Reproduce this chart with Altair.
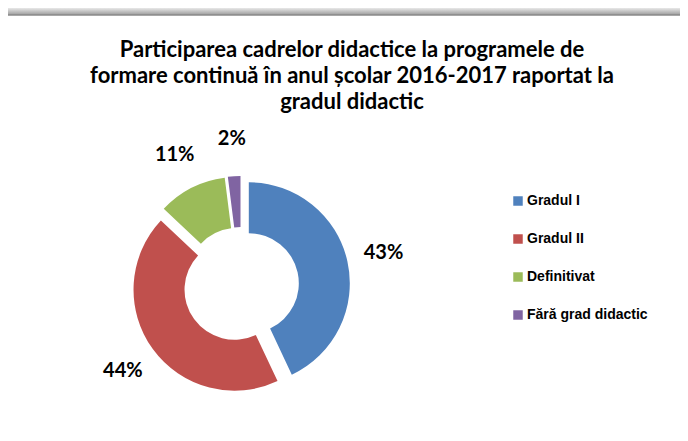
import altair as alt
import pandas as pd

categories = ["Gradul I", "Gradul II", "Definitivat", "Fără grad didactic"]
values = [43, 44, 11, 2]
labels = ["43%", "44%", "11%", "2%"]
colors = ["#4F81BD", "#C0504D", "#9BBB59", "#8064A2"]
title_lines = [
    "Participarea cadrelor didactice la programele de",
    "formare continuă în anul școlar 2016-2017 raportat la",
    "gradul didactic",
]

W, H = 672, 418
CX, CY = 233, 270
R_OUT, R_IN = 101, 50
EXPLODE = 8
LABEL_R = 146

df = pd.DataFrame({"cat": categories, "val": values, "label": labels,
                   "ord": list(range(len(categories)))})

base = (
    alt.Chart(df)
    .transform_joinaggregate(total="sum(val)")
    .transform_window(cum="sum(val)", sort=[alt.SortField("ord")], frame=[None, 0])
    .transform_calculate(
        t0="2*PI*(datum.cum - datum.val)/datum.total",
        t1="2*PI*datum.cum/datum.total",
        mid="2*PI*(datum.cum - datum.val/2)/datum.total",
    )
    .transform_calculate(
        ex=f"{CX} + {EXPLODE}*sin(datum.mid)",
        ey=f"{CY} - {EXPLODE}*cos(datum.mid)",
        lx=f"{CX} + {LABEL_R}*sin(datum.mid)",
        ly=f"{CY} - {LABEL_R}*cos(datum.mid)",
    )
)

arcs = base.mark_arc(outerRadius=R_OUT, innerRadius=R_IN).encode(
    theta=alt.Theta("t0:Q", scale=None),
    theta2=alt.Theta2("t1:Q"),
    x=alt.X("ex:Q", scale=None, axis=None),
    y=alt.Y("ey:Q", scale=None, axis=None),
    color=alt.Color(
        "cat:N",
        scale=alt.Scale(domain=categories, range=colors),
        legend=alt.Legend(
            title=None, orient="none", legendX=503, legendY=179,
            symbolType="square", symbolSize=90, symbolStrokeWidth=0,
            labelFont="Liberation Sans", labelFontWeight="bold",
            labelFontSize=14, labelColor="black",
            rowPadding=24, labelOffset=2, labelLimit=300,
        ),
    ),
)

text = base.mark_text(font="Lato", fontSize=20, fontWeight="bold", color="black").encode(
    x=alt.X("lx:Q", scale=None, axis=None),
    y=alt.Y("ly:Q", scale=None, axis=None),
    text="label:N",
)

deco = pd.DataFrame({"a": [0]})
title_df = pd.DataFrame({"t": ["\n".join(title_lines)]})

title = alt.Chart(title_df).mark_text(
    font="Lato", fontSize=22, fontWeight="bold", color="black",
    align="center", baseline="middle", lineBreak="\n", lineHeight=26,
).encode(x=alt.value(344), y=alt.value(35), text="t:N")

shadow = alt.Chart(deco).mark_rect(
    color=alt.LinearGradient(
        gradient="linear",
        stops=[alt.GradientStop(color="#ffffff", offset=0),
               alt.GradientStop(color="#9a9a9a", offset=1)],
        x1=0, x2=0, y1=0, y2=1,
    )
).encode(x=alt.value(-2), x2=alt.value(W + 10), y=alt.value(-9), y2=alt.value(0))

frame_top = alt.Chart(deco).mark_rule(color="#8a8a8a", strokeWidth=1.5).encode(
    x=alt.value(-2), x2=alt.value(W + 10), y=alt.value(0))
frame_left = alt.Chart(deco).mark_rule(color="#8a8a8a", strokeWidth=2).encode(
    x=alt.value(-1), y=alt.value(0), y2=alt.value(H + 10))

chart = (
    alt.layer(shadow, frame_top, frame_left, title, arcs, text)
    .properties(
        width=W, height=H,
        autosize=alt.AutoSizeParams(type="none"),
        padding={"left": 0, "top": 7, "right": 0, "bottom": 0},
    )
    .configure_view(stroke=None)
)

chart.save("out.html", embed_options={"renderer": "svg", "actions": False})
